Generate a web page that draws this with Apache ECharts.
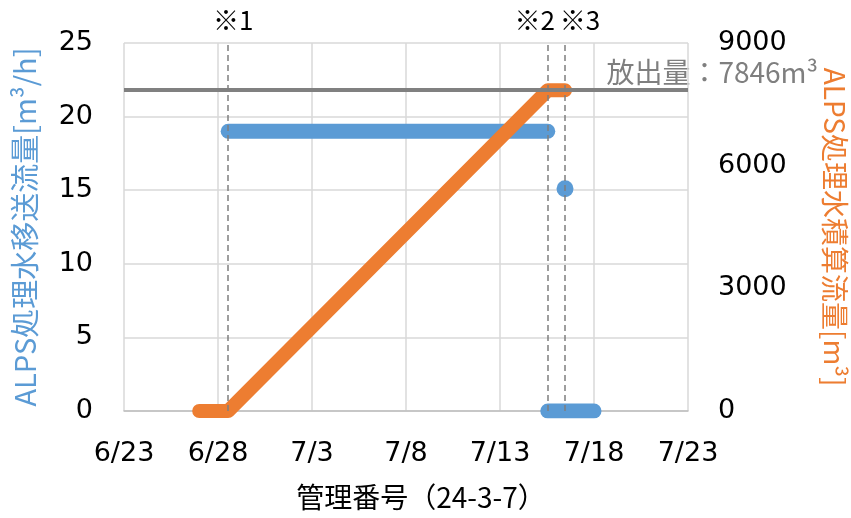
<!DOCTYPE html>
<html><head><meta charset="utf-8">
<script src="https://cdn.jsdelivr.net/npm/echarts@6/dist/echarts.min.js"></script>
<style>html,body{margin:0;padding:0;background:#fff}#c{width:851px;height:518px}</style>
</head><body><div id="c"></div>
<script>
// ---- data ----
const baseDate = '2024-06-23 00:00';
const tickLabels = ['6/23','6/28','7/3','7/8','7/13','7/18','7/23'];
const flowRunTimes = ['2024-06-28 13:00','2024-07-01 00:00','2024-07-04 00:00','2024-07-07 00:00','2024-07-10 00:00','2024-07-13 00:00','2024-07-15 13:00'];
const flowRunValues = [19.0, 19.0, 19.0, 19.0, 19.0, 19.0, 19.0];
const flowSpotTimes = ['2024-07-16 11:00'];
const flowSpotValues = [15.1];
const flowStopTimes = ['2024-07-15 13:00','2024-07-18 00:00'];
const flowStopValues = [0, 0];
const cumTimes = ['2024-06-27 00:00','2024-06-28 13:00','2024-07-15 13:00','2024-07-16 11:00'];
const cumValues = [0, 0, 7846, 7846];
const eventTimes = ['2024-06-28 13:00','2024-07-15 13:00','2024-07-16 11:00'];
const eventLabels = ['※1','※2','※3'];
const dischargeTotal = 7846;

// ---- helpers ----
function toDay(s){
  const [d,t] = s.split(' ');
  const [Y,M,D] = d.split('-').map(Number);
  const [h,m] = t.split(':').map(Number);
  return Date.UTC(Y,M-1,D,h,m);
}
const base = toDay(baseDate);
const dayOf = s => (toDay(s) - base) / 86400000;
const pairs = (ts, vs) => ts.map((t,i)=>[dayOf(t), vs[i]]);

const CJK = "'Noto Sans CJK JP', sans-serif";
const NUM = "'DejaVu Sans', 'Noto Sans CJK JP', sans-serif";
const BLUE = '#5B9BD5', ORANGE = '#ED7D31';
const labelOffsets = [[5,-2],[-13,-2],[15,-2]];

const chart = echarts.init(document.getElementById('c'));
chart.setOption({
  animation:false,
  textStyle:{fontFamily:CJK},
  grid:{left:124,right:163,top:43,bottom:107,outerBoundsMode:'none',containLabel:false},
  xAxis:{
    type:'value', min:0, max:30, interval:5,
    name:'管理番号（24-3-7）', nameLocation:'middle', nameGap:72,
    nameTextStyle:{fontSize:28,color:'#000',fontFamily:CJK,padding:[0,0,0,30]},
    axisLine:{lineStyle:{color:'#bfbfbf',width:1.5}},
    axisTick:{show:false},
    axisLabel:{fontSize:27,color:'#000',margin:29,fontFamily:NUM,formatter:v=>tickLabels[Math.round(v/5)]},
    splitLine:{show:true,lineStyle:{color:'#d9d9d9',width:1.5}}
  },
  yAxis:[{
    type:'value', min:0, max:25, interval:5,
    name:'ALPS処理水移送流量[m³/h]', nameLocation:'middle', nameGap:85, nameRotate:90,
    nameTextStyle:{fontSize:29,color:BLUE,fontFamily:CJK},
    axisLine:{show:false}, axisTick:{show:false},
    axisLabel:{fontSize:27,color:'#000',margin:31,fontFamily:NUM},
    splitLine:{show:true,lineStyle:{color:'#d9d9d9',width:1.5}}
  },{
    type:'value', min:0, max:9000, interval:3000,
    name:'ALPS処理水積算流量[m³]', nameLocation:'middle', nameGap:133, nameRotate:-90,
    nameTextStyle:{fontSize:28,color:ORANGE,fontFamily:CJK},
    axisLine:{show:false}, axisTick:{show:false},
    axisLabel:{fontSize:27,color:'#000',margin:30,fontFamily:NUM,formatter:v=>String(v)},
    splitLine:{show:false}
  }],
  series:[
    { type:'line', yAxisIndex:1, data:[], z:1, silent:true,
      markLine:{symbol:'none', silent:true, label:{show:false},
        lineStyle:{color:'#808080',width:4,type:'solid'},
        data:[{yAxis:dischargeTotal}] } },
    { name:'移送流量', type:'line', data:pairs(flowRunTimes,flowRunValues), z:2,
      showSymbol:false, lineStyle:{color:BLUE,width:15,cap:'round',join:'round'} },
    { name:'移送流量停止', type:'line', data:pairs(flowStopTimes,flowStopValues), z:2,
      showSymbol:false, lineStyle:{color:BLUE,width:15,cap:'round',join:'round'} },
    { name:'移送流量点', type:'scatter', data:pairs(flowSpotTimes,flowSpotValues), z:2,
      symbolSize:17, itemStyle:{color:BLUE,opacity:1} },
    { name:'積算流量', type:'line', yAxisIndex:1, data:pairs(cumTimes,cumValues), z:3,
      showSymbol:false, lineStyle:{color:ORANGE,width:14,cap:'round',join:'round'} },
    { type:'line', data:[], z:5, silent:true,
      markLine:{symbol:'none', silent:true,
        lineStyle:{color:'#7f7f7f',width:1.5,type:[6,4]},
        label:{show:true,position:'end',distance:8,fontSize:26,color:'#000',fontFamily:CJK},
        data:eventTimes.map((t,i)=>({xAxis:dayOf(t),
          label:{formatter:eventLabels[i],offset:labelOffsets[i]}})) } }
  ],
  graphic:[{
    type:'text', right:33, top:58,
    style:{text:'放出量：'+dischargeTotal+'m³', fontSize:28, fill:'#7f7f7f', fontFamily:CJK}
  }]
});
</script></body></html>
